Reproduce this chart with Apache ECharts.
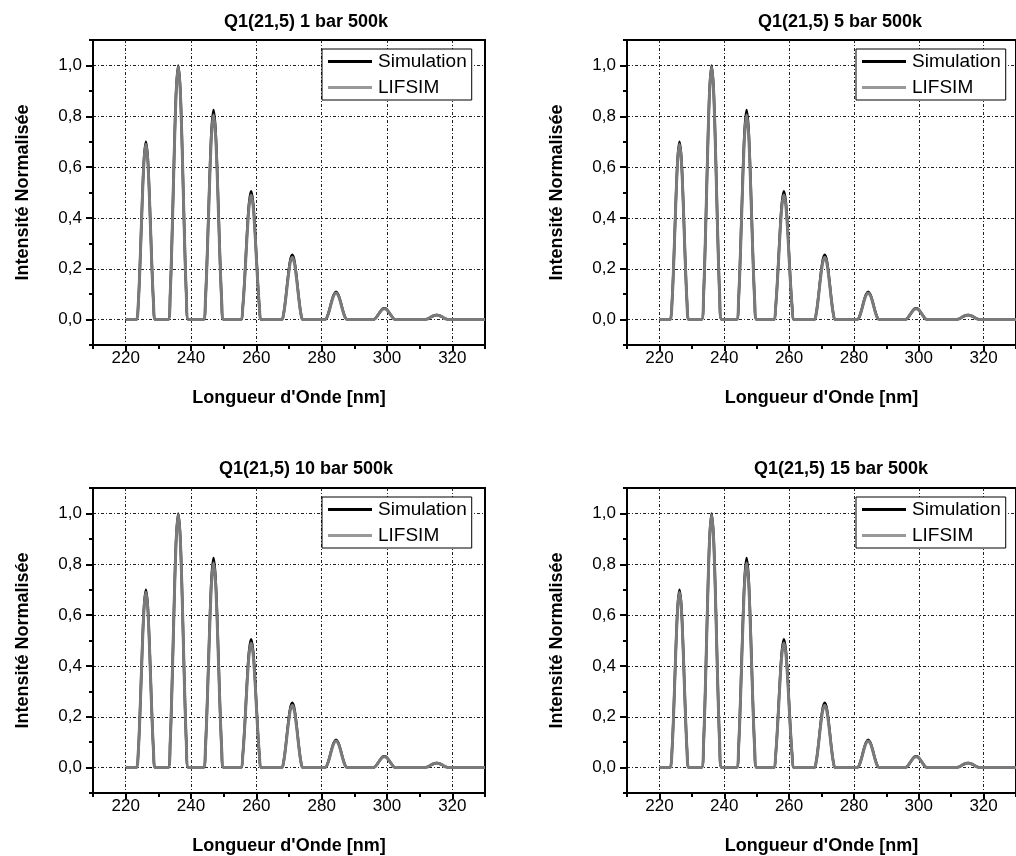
<!DOCTYPE html>
<html>
<head>
<meta charset="utf-8">
<script src="https://cdn.jsdelivr.net/npm/echarts@6/dist/echarts.min.js"></script>
<style>
html,body{margin:0;padding:0;background:#fff;}
#chart{width:1016px;height:856px;}
</style>
</head>
<body>
<div id="chart"></div>
<script>
// ---- data ----
const panelTitles = ['Q1(21,5) 1 bar 500k', 'Q1(21,5) 5 bar 500k', 'Q1(21,5) 10 bar 500k', 'Q1(21,5) 15 bar 500k'];
const xTickValues = [220, 240, 260, 280, 300, 320];
const yTickValues = [0, 0.2, 0.4, 0.6, 0.8, 1.0];
const seriesNames = ['Simulation', 'LIFSIM'];

const wavelength = [220, 222,
  223.3, 223.88, 224.46, 225.04, 225.62, 226.2, 226.78, 227.36, 227.94, 228.52, 229.1,
  233.0, 233.62, 234.24, 234.86, 235.48, 236.1, 236.72, 237.34, 237.96, 238.58, 239.2,
  243.8, 244.42, 245.04, 245.66, 246.28, 246.9, 247.52, 248.14, 248.76, 249.38, 250.0,
  255.2, 255.84, 256.48, 257.12, 257.76, 258.4, 259.04, 259.68, 260.32, 260.96, 261.6,
  267.7, 268.36, 269.02, 269.68, 270.34, 271.0, 271.66, 272.32, 272.98, 273.64, 274.3,
  281.0, 281.68, 282.36, 283.04, 283.72, 284.4, 285.08, 285.76, 286.44, 287.12, 287.8,
  295.7, 296.4, 297.1, 297.8, 298.5, 299.2, 299.9, 300.6, 301.3, 302.0, 302.7,
  311.4, 312.16, 312.92, 313.68, 314.44, 315.2, 315.96, 316.72, 317.48, 318.24, 319.0,
  330];

const simulation = [null, 0,
  0, 0.067, 0.242, 0.458, 0.633, 0.700, 0.633, 0.458, 0.242, 0.067, 0,
  0, 0.096, 0.346, 0.655, 0.905, 1.000, 0.905, 0.655, 0.346, 0.096, 0,
  0, 0.079, 0.285, 0.540, 0.746, 0.825, 0.746, 0.540, 0.285, 0.079, 0,
  0, 0.048, 0.174, 0.331, 0.457, 0.505, 0.457, 0.331, 0.174, 0.048, 0,
  0, 0.024, 0.088, 0.167, 0.231, 0.255, 0.231, 0.167, 0.088, 0.024, 0,
  0, 0.011, 0.038, 0.072, 0.099, 0.110, 0.099, 0.072, 0.038, 0.011, 0,
  0, 0.004, 0.016, 0.029, 0.041, 0.045, 0.041, 0.029, 0.016, 0.004, 0,
  0, 0.002, 0.006, 0.012, 0.016, 0.018, 0.016, 0.012, 0.006, 0.002, 0,
  null];

const lifsim = [0, 0,
  0, 0.066, 0.238, 0.452, 0.624, 0.690, 0.624, 0.452, 0.238, 0.066, 0,
  0, 0.095, 0.344, 0.651, 0.900, 0.995, 0.900, 0.651, 0.344, 0.095, 0,
  0, 0.077, 0.278, 0.527, 0.728, 0.805, 0.728, 0.527, 0.278, 0.077, 0,
  0, 0.047, 0.169, 0.321, 0.443, 0.490, 0.443, 0.321, 0.169, 0.047, 0,
  0, 0.023, 0.085, 0.160, 0.222, 0.245, 0.222, 0.160, 0.085, 0.023, 0,
  0, 0.010, 0.036, 0.069, 0.095, 0.105, 0.095, 0.069, 0.036, 0.010, 0,
  0, 0.004, 0.015, 0.028, 0.039, 0.043, 0.039, 0.028, 0.015, 0.004, 0,
  0, 0.002, 0.006, 0.012, 0.016, 0.018, 0.016, 0.012, 0.006, 0.002, 0,
  0];

// ---- layout ----
const FONT = "'Liberation Sans', Arial, Helvetica, sans-serif";
const panels = [
  {left: 93, top: 40, titleX: 306, titleY: 13},
  {left: 627, top: 40, titleX: 840, titleY: 13},
  {left: 93, top: 488, titleX: 306, titleY: 460},
  {left: 627, top: 488, titleX: 841, titleY: 460}
];
const GW = 392, GH = 305;

function pairs(xs, ys) {
  return xs.map((x, i) => [x, ys[i]]);
}
const simData = pairs(wavelength, simulation);
const lifData = pairs(wavelength, lifsim);

const option = {
  animation: false,
  title: [], grid: [], xAxis: [], yAxis: [], legend: [], series: []
};

const gridLine = {show: true, lineStyle: {color: '#222', width: 1, type: [3, 2, 1, 2]}};

panels.forEach((p, i) => {
  option.title.push({
    text: panelTitles[i], left: p.titleX, top: p.titleY, textAlign: 'center',
    padding: 0,
    textStyle: {fontFamily: FONT, fontSize: 18, fontWeight: 'bold', color: '#000'}
  });
  option.grid.push({
    left: p.left, top: p.top, width: GW, height: GH,
    show: true, borderColor: '#000', borderWidth: 2, backgroundColor: 'transparent'
  });
  option.xAxis.push({
    type: 'value', gridIndex: i, position: 'bottom', min: 210, max: 330, interval: 10,
    name: "Longueur d'Onde [nm]", nameLocation: 'middle', nameGap: 44,
    nameTextStyle: {fontFamily: FONT, fontSize: 18, fontWeight: 'bold', color: '#000'},
    axisLine: {show: true, onZero: false, lineStyle: {color: '#000', width: 2}},
    axisTick: {show: true, inside: false, length: 6, customValues: xTickValues, lineStyle: {color: '#000', width: 2}},
    axisLabel: {show: true, customValues: xTickValues, margin: 5, fontFamily: FONT, fontSize: 17, color: '#000'},
    splitLine: gridLine
  });
  option.xAxis.push({
    type: 'value', gridIndex: i, position: 'bottom', min: 210, max: 330, interval: 10,
    axisLine: {show: false, onZero: false},
    axisTick: {show: true, inside: false, length: 4, lineStyle: {color: '#000', width: 2}},
    axisLabel: {show: false}, splitLine: {show: false}
  });
  option.yAxis.push({
    type: 'value', gridIndex: i, position: 'left', min: -0.1, max: 1.1, interval: 0.1,
    name: 'Intensité Normalisée', nameLocation: 'middle', nameGap: 61,
    nameTextStyle: {fontFamily: FONT, fontSize: 18, fontWeight: 'bold', color: '#000'},
    axisLine: {show: true, onZero: false, lineStyle: {color: '#000', width: 2}},
    axisTick: {show: true, inside: false, length: 7, customValues: yTickValues, lineStyle: {color: '#000', width: 2}},
    axisLabel: {show: true, customValues: yTickValues, margin: 11, fontFamily: FONT, fontSize: 17, color: '#000',
      formatter: v => v.toFixed(1).replace('.', ',')},
    splitLine: gridLine
  });
  option.yAxis.push({
    type: 'value', gridIndex: i, position: 'left', min: -0.1, max: 1.1, interval: 0.1,
    axisLine: {show: false, onZero: false},
    axisTick: {show: true, inside: false, length: 4, lineStyle: {color: '#000', width: 2}},
    axisLabel: {show: false}, splitLine: {show: false}
  });
  option.legend.push({
    left: p.left + 229, top: p.top + 9,
    orient: 'vertical', icon: 'rect', itemWidth: 44, itemHeight: 3, itemGap: 7,
    padding: [3, 5, 3, 6],
    backgroundColor: '#fff', borderColor: '#000', borderWidth: 1, borderRadius: 0,
    textStyle: {fontFamily: FONT, fontSize: 19, color: '#000', padding: [0, 0, 0, 1]},
    data: [
      {name: seriesNames[0], itemStyle: {color: '#000'}},
      {name: seriesNames[1], itemStyle: {color: '#999'}}
    ],
    selectedMode: false
  });
  option.series.push({
    name: seriesNames[0], type: 'line', xAxisIndex: 2 * i, yAxisIndex: 2 * i,
    data: simData, symbol: 'none', smooth: 0.3, z: 3,
    lineStyle: {color: '#000', width: 2.5}, itemStyle: {color: '#000'}
  });
  option.series.push({
    name: seriesNames[1], type: 'line', xAxisIndex: 2 * i, yAxisIndex: 2 * i,
    data: lifData, symbol: 'none', smooth: 0.3, z: 4,
    lineStyle: {color: '#7a7a7a', width: 3}, itemStyle: {color: '#7a7a7a'}
  });
});

const chart = echarts.init(document.getElementById('chart'), null, {renderer: 'canvas'});
chart.setOption(option);
</script>
</body>
</html>
